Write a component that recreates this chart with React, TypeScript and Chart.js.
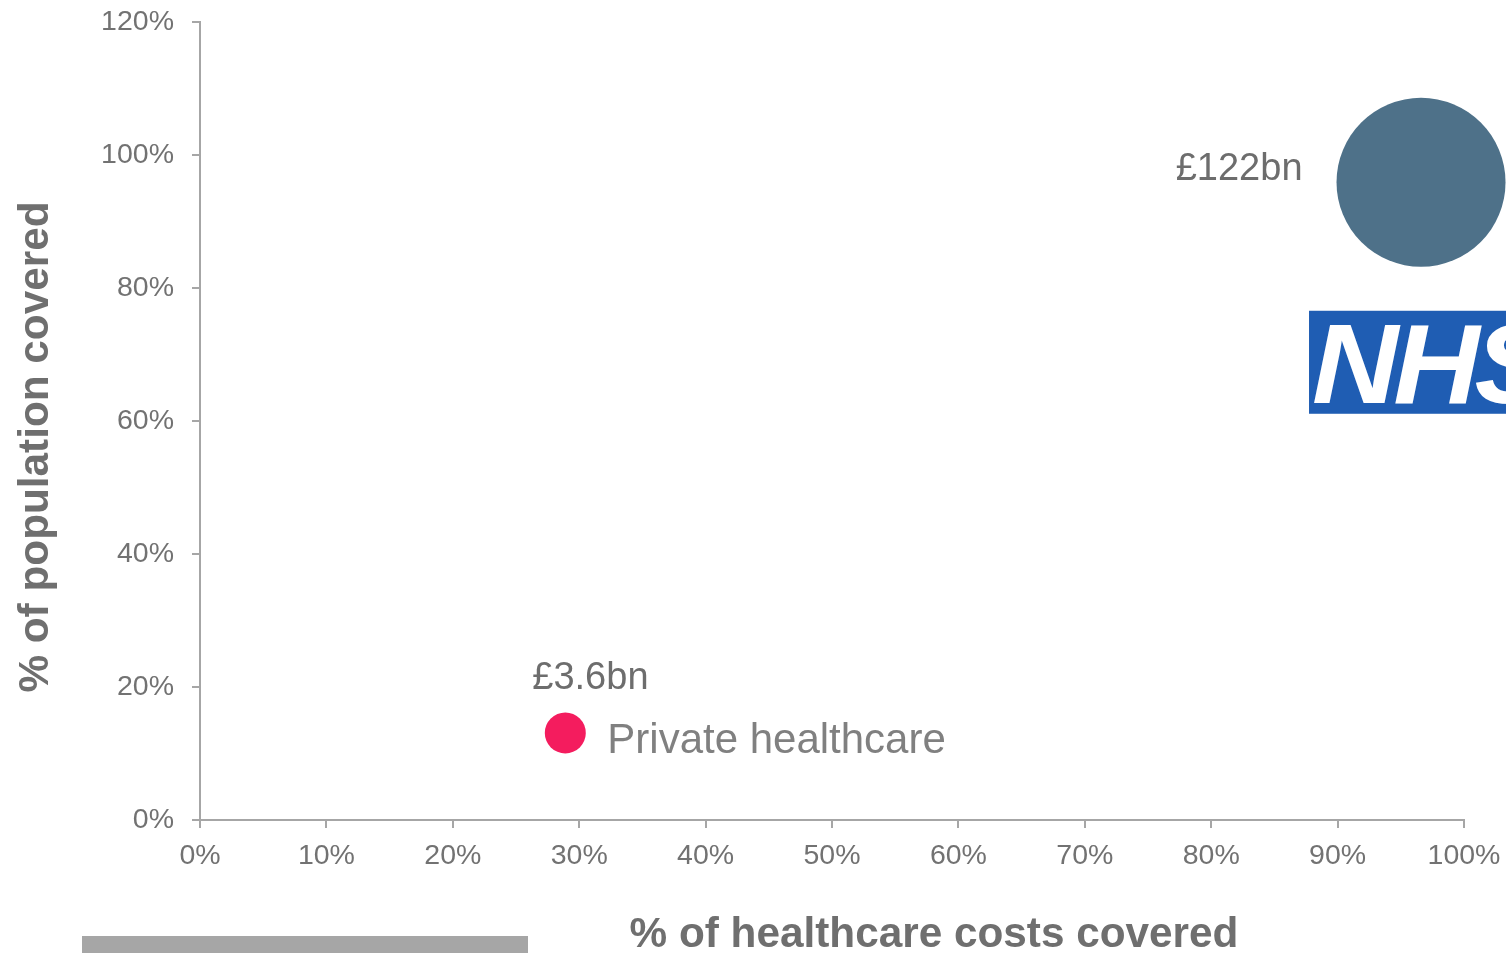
import React, { useEffect, useRef } from "react";
import { Chart, registerables } from "chart.js";

Chart.register(...registerables);

// ---- data ----
const categories = ["NHS", "Private healthcare"];
const costsCovered = [96.6, 28.9]; // x: % of healthcare costs covered
const populationCovered = [95.9, 13.1]; // y: % of population covered
const spendLabels = ["£122bn", "£3.6bn"];
const bubbleRadius = [84.5, 20.5];
const xTickValues = [0, 10, 20, 30, 40, 50, 60, 70, 80, 90, 100];
const yTickValues = [0, 20, 40, 60, 80, 100, 120];
const xAxisTitle = "% of healthcare costs covered";
const yAxisTitle = "% of population covered";

const FONT = "'Liberation Sans', Arial, Helvetica, sans-serif";
const AXIS_GRAY = "#a6a6a6";
const TICK_GRAY = "#727272";
const TITLE_GRAY = "#6f6f6f";

const zeroPadding = (scale: any) => {
  scale.paddingTop = 0;
  scale.paddingBottom = 0;
  scale.paddingLeft = 0;
  scale.paddingRight = 0;
};

const overlayPlugin = {
  id: "overlay",
  afterDatasetsDraw(chart: any) {
    const ctx = chart.ctx as CanvasRenderingContext2D;
    const nhs = chart.getDatasetMeta(0).data[0];
    const pr = chart.getDatasetMeta(1).data[0];
    ctx.save();

    // £122bn label left of NHS bubble
    ctx.font = `38px ${FONT}`;
    ctx.fillStyle = "#6d6d6d";
    ctx.textAlign = "right";
    ctx.textBaseline = "alphabetic";
    ctx.fillText(spendLabels[0], nhs.x - bubbleRadius[0] - 34, nhs.y - 2);

    // £3.6bn label above private bubble
    ctx.textAlign = "left";
    ctx.fillText(spendLabels[1], pr.x - 33, pr.y - 44);

    // Private healthcare label
    ctx.font = `42px ${FONT}`;
    ctx.fillStyle = "#808080";
    ctx.fillText(categories[1], pr.x + bubbleRadius[1] + 21.5, pr.y + 20);

    // NHS logo
    const lx = nhs.x - 112;
    const ly = nhs.y + 128.5;
    ctx.fillStyle = "#1f5db3";
    ctx.fillRect(lx, ly, 260, 103);
    ctx.save();
    ctx.fillStyle = "#ffffff";
    ctx.font = `italic bold 114px ${FONT}`;
    (ctx as any).letterSpacing = "-5px";
    ctx.textAlign = "left";
    ctx.translate(lx + 3, ly + 92);
    ctx.scale(1.05, 1);
    ctx.fillText(categories[0], 0, 0);
    (ctx as any).letterSpacing = "0px";
    ctx.restore();

    // Axis titles
    ctx.fillStyle = TITLE_GRAY;
    ctx.font = `bold 42.3px ${FONT}`;
    ctx.textAlign = "center";
    ctx.textBaseline = "alphabetic";
    ctx.fillText(xAxisTitle, 934, 947);

    ctx.translate(48, 447);
    ctx.rotate(-Math.PI / 2);
    ctx.fillText(yAxisTitle, 0, 0);
    ctx.restore();

    // decorative grey bar at bottom left
    ctx.save();
    ctx.fillStyle = "#a6a6a6";
    ctx.fillRect(82, 936, 446, 17);
    ctx.restore();
  },
};

export default function App() {
  const ref = useRef<HTMLCanvasElement | null>(null);

  useEffect(() => {
    if (!ref.current) return;
    const chart = new Chart(ref.current, {
      type: "bubble",
      data: {
        datasets: [
          {
            label: categories[0],
            data: [{ x: costsCovered[0], y: populationCovered[0], r: bubbleRadius[0] }],
            backgroundColor: "#4e7189",
            borderWidth: 0,
            clip: false as any,
          },
          {
            label: categories[1],
            data: [{ x: costsCovered[1], y: populationCovered[1], r: bubbleRadius[1] }],
            backgroundColor: "#f41c5e",
            borderWidth: 0,
            clip: false as any,
          },
        ],
      },
      options: {
        responsive: false,
        animation: false,
        layout: { autoPadding: false, padding: { top: 22, right: 42, left: 0, bottom: 0 } } as any,
        plugins: {
          legend: { display: false },
          tooltip: { enabled: false },
        },
        scales: {
          x: {
            type: "linear",
            min: 0,
            max: 100,
            afterBuildTicks: (scale: any) => {
              scale.ticks = xTickValues.map((v) => ({ value: v }));
            },
            afterFit: (scale: any) => {
              scale.height = 133;
              zeroPadding(scale);
            },
            ticks: {
              callback: (v: any) => `${v}%`,
              color: TICK_GRAY,
              font: { family: FONT, size: 28.5 },
              padding: 11,
              maxRotation: 0,
              autoSkip: false,
            },
            grid: {
              display: true,
              drawOnChartArea: false,
              drawTicks: true,
              tickLength: 8,
              color: AXIS_GRAY,
              lineWidth: 2,
            },
            border: { display: true, color: AXIS_GRAY, width: 2 },
          },
          y: {
            type: "linear",
            min: 0,
            max: 120,
            afterBuildTicks: (scale: any) => {
              scale.ticks = yTickValues.map((v) => ({ value: v }));
            },
            afterFit: (scale: any) => {
              scale.width = 200;
              zeroPadding(scale);
            },
            ticks: {
              callback: (v: any) => `${v}%`,
              color: TICK_GRAY,
              font: { family: FONT, size: 28.5 },
              padding: 18,
              autoSkip: false,
            },
            grid: {
              display: true,
              drawOnChartArea: false,
              drawTicks: true,
              tickLength: 8,
              color: AXIS_GRAY,
              lineWidth: 2,
            },
            border: { display: true, color: AXIS_GRAY, width: 2 },
          },
        },
      },
      plugins: [overlayPlugin],
    });
    return () => chart.destroy();
  }, []);

  return (
    <canvas
      ref={ref}
      width={1506}
      height={953}
      style={{ position: "absolute", left: 0, top: 0, width: 1506, height: 953, display: "block" }}
    />
  );
}
